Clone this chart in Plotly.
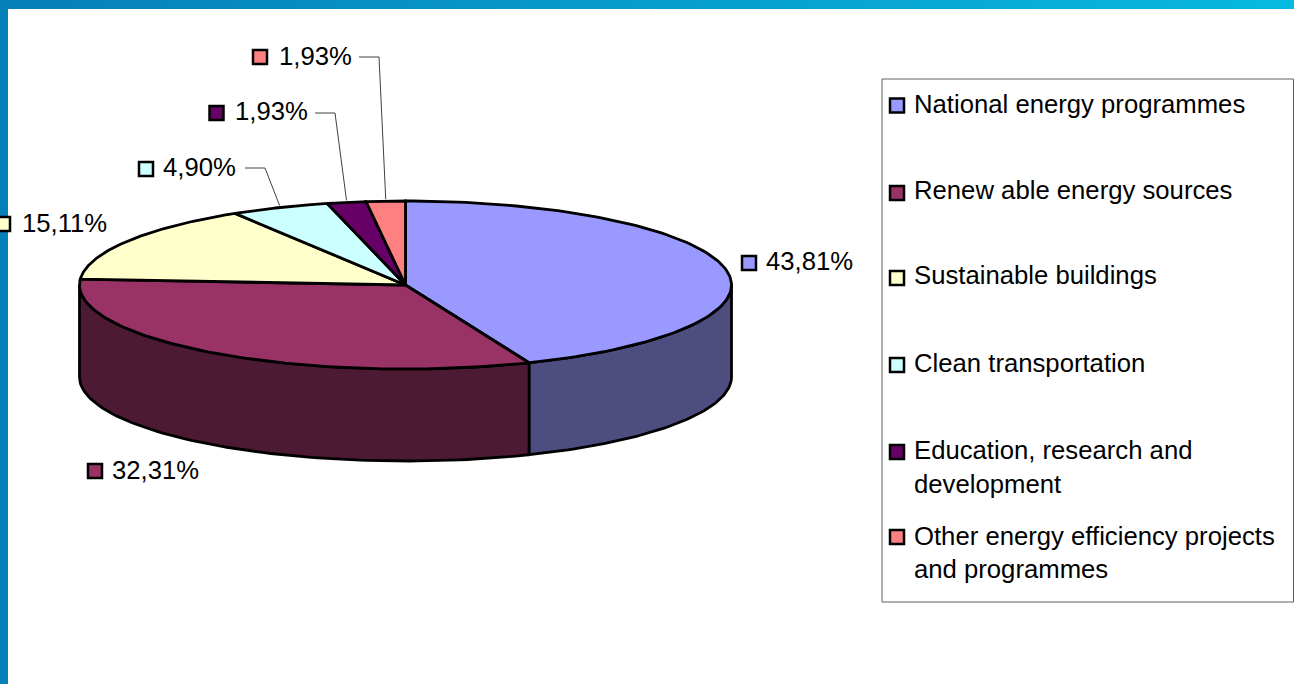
import numpy as np
import plotly.graph_objects as go

# Programme categories and their budget shares (%)
categories = [
    "National energy programmes",
    "Renewable energy sources",
    "Sustainable buildings",
    "Clean transportation",
    "Education, research and development",
    "Other energy efficiency projects and programmes",
]
legend_lines = [
    ["National energy programmes"],
    ["Renew able energy sources"],
    ["Sustainable buildings"],
    ["Clean transportation"],
    ["Education, research and", "development"],
    ["Other energy efficiency projects", "and programmes"],
]
shares = [43.81, 32.31, 15.11, 4.90, 1.93, 1.93]
share_labels = ["43,81%", "32,31%", "15,11%", "4,90%", "1,93%", "1,93%"]
top_colors = ["#9999FF", "#993366", "#FFFFCC", "#CCFFFF", "#660066", "#FF8080"]
wall_colors = ["#4D4D80", "#4D1A33", "#80806A", "#6A8080", "#330033", "#804040"]

# Pie geometry, in page pixels
CX, CY, RX, RY, DEPTH = 405.5, 285, 326, 84, 92
FONT = "Liberation Sans, Arial, sans-serif"
TEXT_SIZE = 25.7
EDGE = 2.8


def rim(theta):
    """Point on the top ellipse; theta in radians, clockwise from 12 o'clock."""
    return CX + RX * np.sin(theta), CY - RY * np.cos(theta)


fractions = np.array(shares) / sum(shares)
edges = np.concatenate([[0.0], np.cumsum(fractions)]) * 2 * np.pi

fig = go.Figure()

# Side walls: only the front half of the disc is visible
for i in range(len(shares)):
    a = max(edges[i], np.pi / 2)
    b = min(edges[i + 1], 3 * np.pi / 2)
    if b <= a:
        continue
    t = np.linspace(a, b, 90)
    x, y = rim(t)
    fig.add_trace(go.Scatter(
        x=np.concatenate([x, x[::-1], x[:1]]),
        y=np.concatenate([y, y[::-1] + DEPTH, y[:1]]),
        mode="lines", fill="toself", fillcolor=wall_colors[i],
        line=dict(color="black", width=EDGE, shape="linear"),
        hoverinfo="skip", showlegend=False,
    ))

# Top face slices
for i in range(len(shares)):
    t = np.linspace(edges[i], edges[i + 1], 120)
    x, y = rim(t)
    fig.add_trace(go.Scatter(
        x=np.concatenate([[CX], x, [CX]]),
        y=np.concatenate([[CY], y, [CY]]),
        mode="lines", fill="toself", fillcolor=top_colors[i],
        line=dict(color="black", width=EDGE),
        name=categories[i], hoverinfo="skip", showlegend=False,
    ))

# Leader lines for the three narrow slices: label end, elbow, slice rim
leaders = {3: ((245, 168), (265, 168)), 4: ((315, 113), (335, 113)), 5: ((359, 57), (379, 57))}
for i, (start, elbow) in leaders.items():
    ex, ey = rim((edges[i] + edges[i + 1]) / 2)
    fig.add_trace(go.Scatter(
        x=[start[0], elbow[0], ex], y=[start[1], elbow[1], ey - 2],
        mode="lines", line=dict(color="#404040", width=1),
        hoverinfo="skip", showlegend=False,
    ))

# Data labels: colour key square plus the value text
key_pos = [(749, 263), (95, 471), (3, 224), (146, 169), (216.5, 113), (260, 57)]
label_pos = [(764, 261), (110, 470), (20, 223), (161, 167), (233, 111), (277, 56)]
fig.add_trace(go.Scatter(
    x=[p[0] for p in key_pos], y=[p[1] for p in key_pos], mode="markers",
    marker=dict(symbol="square", size=14, color=top_colors, line=dict(color="black", width=2.5)),
    hoverinfo="skip", showlegend=False, cliponaxis=False,
))
annotations = [
    dict(x=p[0], y=p[1], text=s, xanchor="left", yanchor="middle", showarrow=False,
         font=dict(family=FONT, size=TEXT_SIZE, color="black"))
    for p, s in zip(label_pos, share_labels)
]

# Legend panel
legend_key_y = [105.5, 193, 278, 365, 452, 537]
legend_text_y = [[104], [190], [275], [363], [450, 484], [536, 569]]
fig.add_trace(go.Scatter(
    x=[897] * len(categories), y=legend_key_y, mode="markers",
    marker=dict(symbol="square", size=14, color=top_colors, line=dict(color="black", width=2.5)),
    hoverinfo="skip", showlegend=False,
))
for lines, ys in zip(legend_lines, legend_text_y):
    for line, y in zip(lines, ys):
        annotations.append(dict(
            x=912, y=y, text=line, xanchor="left", yanchor="middle", showarrow=False,
            font=dict(family=FONT, size=TEXT_SIZE, color="black"),
        ))

shapes = [dict(type="rect", x0=882, x1=1293.5, y0=79, y1=602, line=dict(color="#606060", width=1),
               fillcolor="rgba(0,0,0,0)", layer="below")]

# Page frame: a horizontal gradient across the top and a slim strip down the left
left_rgb, right_rgb = np.array([6, 128, 184]), np.array([9, 186, 224])
for x0 in range(0, 1294, 8):
    f = x0 / 1294
    r, g, b = (left_rgb + (right_rgb - left_rgb) * f).astype(int)
    shapes.append(dict(type="rect", x0=x0, x1=x0 + 8, y0=0, y1=9, line=dict(width=0),
                       fillcolor=f"rgb({r},{g},{b})", layer="below"))
shapes.append(dict(type="rect", x0=0, x1=8, y0=0, y1=684, line=dict(width=0),
                   fillcolor="rgb(6,128,184)", layer="below"))

fig.update_layout(
    width=1294, height=684, margin=dict(l=0, r=0, t=0, b=0),
    paper_bgcolor="white", plot_bgcolor="white", showlegend=False,
    xaxis=dict(range=[0, 1294], visible=False, fixedrange=True),
    yaxis=dict(range=[684, 0], visible=False, fixedrange=True),
    shapes=shapes, annotations=annotations,
)
fig.write_html("out.html", config={"displayModeBar": False})
